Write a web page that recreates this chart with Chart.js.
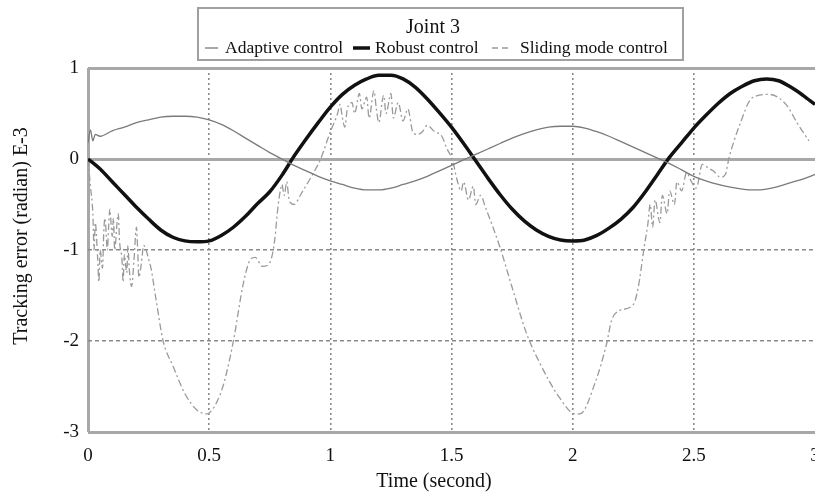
<!DOCTYPE html>
<html><head><meta charset="utf-8">
<script src="https://cdn.jsdelivr.net/npm/chart.js@4.4.0/dist/chart.umd.min.js"></script>
<style>html,body{margin:0;padding:0;background:#fff;}#wrap{width:815px;height:493px;}</style>
</head><body><div id="wrap"><canvas id="c" width="815" height="493"></canvas></div>
<script>
const chartTitle = 'Joint 3';
const seriesNames = ['Adaptive control', 'Robust control', 'Sliding mode control'];
const xAxisTitle = 'Time (second)';
const yAxisTitle = 'Tracking error (radian) E-3';
const xTickValues = [0, 0.5, 1, 1.5, 2, 2.5, 3];
const xTickLabels = ['0', '0.5', '1', '1.5', '2', '2.5', '3'];
const yTickValues = [-3, -2, -1, 0, 1];
const yTickLabels = ['-3', '-2', '-1', '0', '1'];

const timeGrid = [0, 0.05, 0.1, 0.15, 0.2, 0.25, 0.3, 0.35, 0.4, 0.45, 0.5, 0.55, 0.6, 0.65, 0.7, 0.75, 0.8, 0.85, 0.9, 0.95,
  1.0, 1.05, 1.1, 1.15, 1.2, 1.25, 1.3, 1.35, 1.4, 1.45, 1.5, 1.55, 1.6, 1.65, 1.7, 1.75, 1.8, 1.85, 1.9, 1.95,
  2.0, 2.05, 2.1, 2.15, 2.2, 2.25, 2.3, 2.35, 2.4, 2.45, 2.5, 2.55, 2.6, 2.65, 2.7, 2.75, 2.8, 2.85, 2.9, 2.95, 3.0];

const adaptiveTime = [0, 0.01, 0.02, 0.03, 0.05, 0.1, 0.15, 0.2, 0.25, 0.3, 0.35, 0.4, 0.45, 0.5, 0.55, 0.6, 0.65, 0.7, 0.75, 0.8, 0.85, 0.9, 0.95,
  1.0, 1.05, 1.1, 1.15, 1.2, 1.25, 1.3, 1.35, 1.4, 1.45, 1.5, 1.55, 1.6, 1.65, 1.7, 1.75, 1.8, 1.85, 1.9, 1.95,
  2.0, 2.05, 2.1, 2.15, 2.2, 2.25, 2.3, 2.35, 2.4, 2.45, 2.5, 2.55, 2.6, 2.65, 2.7, 2.75, 2.8, 2.85, 2.9, 2.95, 3.0];
const adaptiveValues = [0.18, 0.32, 0.2, 0.27, 0.25, 0.31, 0.35, 0.40, 0.43, 0.46, 0.47, 0.47, 0.46, 0.43, 0.38, 0.31, 0.23, 0.15, 0.07, 0.0, -0.07, -0.13, -0.19,
  -0.24, -0.28, -0.32, -0.34, -0.34, -0.32, -0.28, -0.24, -0.19, -0.13, -0.07, -0.01, 0.05, 0.11, 0.17, 0.23, 0.28, 0.32, 0.35, 0.36,
  0.36, 0.34, 0.30, 0.25, 0.19, 0.13, 0.07, 0.01, -0.05, -0.12, -0.19, -0.24, -0.28, -0.31, -0.33, -0.34, -0.33, -0.30, -0.26, -0.22, -0.17];

const robustValues = [0, -0.11, -0.25, -0.39, -0.53, -0.66, -0.78, -0.86, -0.90, -0.91, -0.90, -0.84, -0.75, -0.63, -0.49, -0.36, -0.18, 0.03, 0.22, 0.40,
  0.57, 0.71, 0.81, 0.88, 0.92, 0.92, 0.88, 0.79, 0.66, 0.51, 0.35, 0.17, -0.02, -0.21, -0.39, -0.55, -0.68, -0.78, -0.85, -0.89,
  -0.90, -0.89, -0.84, -0.76, -0.66, -0.53, -0.36, -0.17, 0.02, 0.18, 0.34, 0.48, 0.61, 0.72, 0.80, 0.86, 0.88, 0.86, 0.79, 0.70, 0.60];

const slidingTime = [0, 0.01, 0.02, 0.025, 0.03, 0.04, 0.045, 0.05, 0.06, 0.065, 0.07, 0.08, 0.085, 0.09, 0.1, 0.105, 0.11, 0.12, 0.125, 0.13,
  0.14, 0.145, 0.15, 0.16, 0.165, 0.17, 0.18, 0.19, 0.2, 0.205, 0.21, 0.22, 0.23, 0.24, 0.25, 0.26, 0.28, 0.31, 0.35, 0.4,
  0.45, 0.49, 0.53, 0.56, 0.6, 0.64, 0.667, 0.69, 0.72, 0.74, 0.757, 0.77, 0.785, 0.795, 0.8, 0.81, 0.82, 0.83, 0.85, 0.88,
  0.92, 0.96, 1.0, 1.03, 1.04, 1.05, 1.06, 1.07, 1.09, 1.1, 1.12, 1.13, 1.15, 1.16, 1.18, 1.19, 1.2, 1.22, 1.23, 1.25,
  1.26, 1.28, 1.3, 1.32, 1.34, 1.36, 1.38, 1.4, 1.43, 1.46, 1.48, 1.505, 1.52, 1.54, 1.55, 1.57, 1.59, 1.6, 1.62, 1.64,
  1.7, 1.75, 1.81, 1.86, 1.945, 2.01, 2.03, 2.095, 2.14, 2.16, 2.19, 2.25, 2.27, 2.295, 2.31, 2.32, 2.33, 2.34, 2.36, 2.37,
  2.39, 2.4, 2.42, 2.43, 2.45, 2.47, 2.49, 2.51, 2.535, 2.56, 2.58, 2.61, 2.63, 2.645, 2.69, 2.74, 2.81, 2.88, 2.93, 2.975];
const slidingValues = [0, -0.3, -0.6, -1.0, -0.7, -1.1, -1.35, -1.0, -1.2, -0.8, -0.65, -1.0, -0.75, -0.55, -0.85, -0.65, -1.0, -0.7, -0.6, -0.9,
  -1.1, -1.35, -1.05, -1.25, -0.95, -1.2, -1.4, -1.1, -0.75, -1.0, -1.3, -1.15, -0.95, -1.0, -1.1, -1.2, -1.53, -2.0, -2.27, -2.58,
  -2.76, -2.8, -2.68, -2.47, -2.0, -1.38, -1.12, -1.08, -1.18, -1.17, -1.09, -0.9, -0.5, -0.33, -0.28, -0.4, -0.25, -0.45, -0.5, -0.38,
  -0.2, 0.0, 0.3, 0.5, 0.6, 0.45, 0.35, 0.55, 0.62, 0.5, 0.72, 0.55, 0.68, 0.45, 0.75, 0.55, 0.4, 0.7, 0.5, 0.72,
  0.45, 0.62, 0.42, 0.55, 0.3, 0.27, 0.3, 0.37, 0.3, 0.25, 0.12, -0.02, -0.2, -0.35, -0.25, -0.45, -0.3, -0.5, -0.4, -0.53,
  -0.97, -1.41, -1.92, -2.22, -2.62, -2.8, -2.8, -2.44, -2.03, -1.78, -1.67, -1.6, -1.42, -0.97, -0.72, -0.5, -0.75, -0.45, -0.7, -0.4,
  -0.6, -0.35, -0.5, -0.25, -0.35, -0.15, -0.25, -0.32, -0.06, -0.1, -0.13, -0.2, -0.17, 0.01, 0.38, 0.67, 0.71, 0.6, 0.38, 0.2];

const FONT = '"Liberation Serif", "Times New Roman", serif';
const pts = (xs, ys) => xs.map((x, i) => ({x: x, y: ys[i]}));

const annotationPlugin = {
  id: 'boxLegendAndTitles',
  afterDraw(chart) {
    const ctx = chart.ctx;
    const ds = chart.data.datasets;
    ctx.save();
    ctx.strokeStyle = '#a0a0a0';
    ctx.lineWidth = 2;
    ctx.strokeRect(198, 8, 485, 52);
    ctx.fillStyle = '#111';
    ctx.textBaseline = 'alphabetic';
    ctx.textAlign = 'center';
    ctx.font = '20px ' + FONT;
    ctx.fillText(chartTitle, 433, 33);
    ctx.textAlign = 'left';
    ctx.font = '17.5px ' + FONT;
    const sampleX = [205, 353, 492];
    const sampleLen = [13, 17, 18];
    const textX = [225, 375, 520];
    for (let i = 0; i < ds.length; i++) {
      ctx.save();
      ctx.strokeStyle = ds[i].borderColor;
      ctx.lineWidth = ds[i].borderWidth;
      ctx.setLineDash(i === 2 ? [6, 4] : []);
      ctx.beginPath();
      ctx.moveTo(sampleX[i], 48);
      ctx.lineTo(sampleX[i] + sampleLen[i], 48);
      ctx.stroke();
      ctx.restore();
      ctx.fillText(ds[i].label, textX[i], 53);
    }
    ctx.font = '20px ' + FONT;
    ctx.textAlign = 'center';
    ctx.textBaseline = 'middle';
    ctx.fillText(xAxisTitle, 434, 482);
    ctx.translate(22, 236);
    ctx.rotate(-Math.PI / 2);
    ctx.fillText(yAxisTitle, 0, 0);
    ctx.restore();
  }
};

new Chart(document.getElementById('c'), {
  type: 'line',
  data: {
    datasets: [
      {label: seriesNames[0], data: pts(adaptiveTime, adaptiveValues), borderColor: '#7a7a7a', borderWidth: 1.3,
       pointRadius: 0, cubicInterpolationMode: 'monotone', fill: false},
      {label: seriesNames[1], data: pts(timeGrid, robustValues), borderColor: '#111111', borderWidth: 3.5,
       pointRadius: 0, cubicInterpolationMode: 'monotone', fill: false},
      {label: seriesNames[2], data: pts(slidingTime, slidingValues), borderColor: '#9a9a9a', borderWidth: 1.3,
       borderDash: [7, 3, 2, 3], pointRadius: 0, cubicInterpolationMode: 'monotone', fill: false}
    ]
  },
  options: {
    responsive: false,
    animation: false,
    devicePixelRatio: 1,
    layout: {padding: {top: 68, right: 0, bottom: 0, left: 0}},
    plugins: {legend: {display: false}, title: {display: false}, tooltip: {enabled: false}},
    scales: {
      x: {
        type: 'linear', min: 0, max: 3,
        afterBuildTicks: s => { s.ticks = xTickValues.map(v => ({value: v})); },
        afterFit: s => { s.paddingLeft = 0; s.paddingRight = 0; s.height = 61; },
        ticks: {autoSkip: false, maxRotation: 0, padding: 13, color: '#111', font: {family: FONT, size: 19},
                callback: (v) => xTickLabels[xTickValues.indexOf(v)]},
        grid: {
          drawTicks: false,
          color: c => (c.tick && (c.tick.value === 0)) ? '#a8a8a8' : (c.tick && c.tick.value === 3 ? 'rgba(0,0,0,0)' : '#8a8a8a'),
          lineWidth: c => (c.tick && c.tick.value === 0) ? 3 : 1.6
        },
        border: {display: false, dash: c => (c.tick && c.tick.value === 0) ? [] : [2, 3]},
        title: {display: false, text: xAxisTitle}
      },
      y: {
        type: 'linear', min: -3, max: 1,
        afterBuildTicks: s => { s.ticks = yTickValues.map(v => ({value: v})); },
        afterFit: s => { s.paddingTop = 0; s.paddingBottom = 0; s.width = 88; },
        ticks: {autoSkip: false, padding: 9, color: '#111', font: {family: FONT, size: 19},
                callback: (v) => yTickLabels[yTickValues.indexOf(v)]},
        grid: {
          drawTicks: false,
          color: c => (c.tick && (c.tick.value === -2 || c.tick.value === -1)) ? '#8a8a8a' : '#a8a8a8',
          lineWidth: c => (c.tick && (c.tick.value === -2 || c.tick.value === -1)) ? 1.6 : 3
        },
        border: {display: false, dash: c => (c.tick && (c.tick.value === -2 || c.tick.value === -1)) ? [4, 3] : []},
        title: {display: false, text: yAxisTitle}
      }
    }
  },
  plugins: [annotationPlugin]
});
</script></body></html>
